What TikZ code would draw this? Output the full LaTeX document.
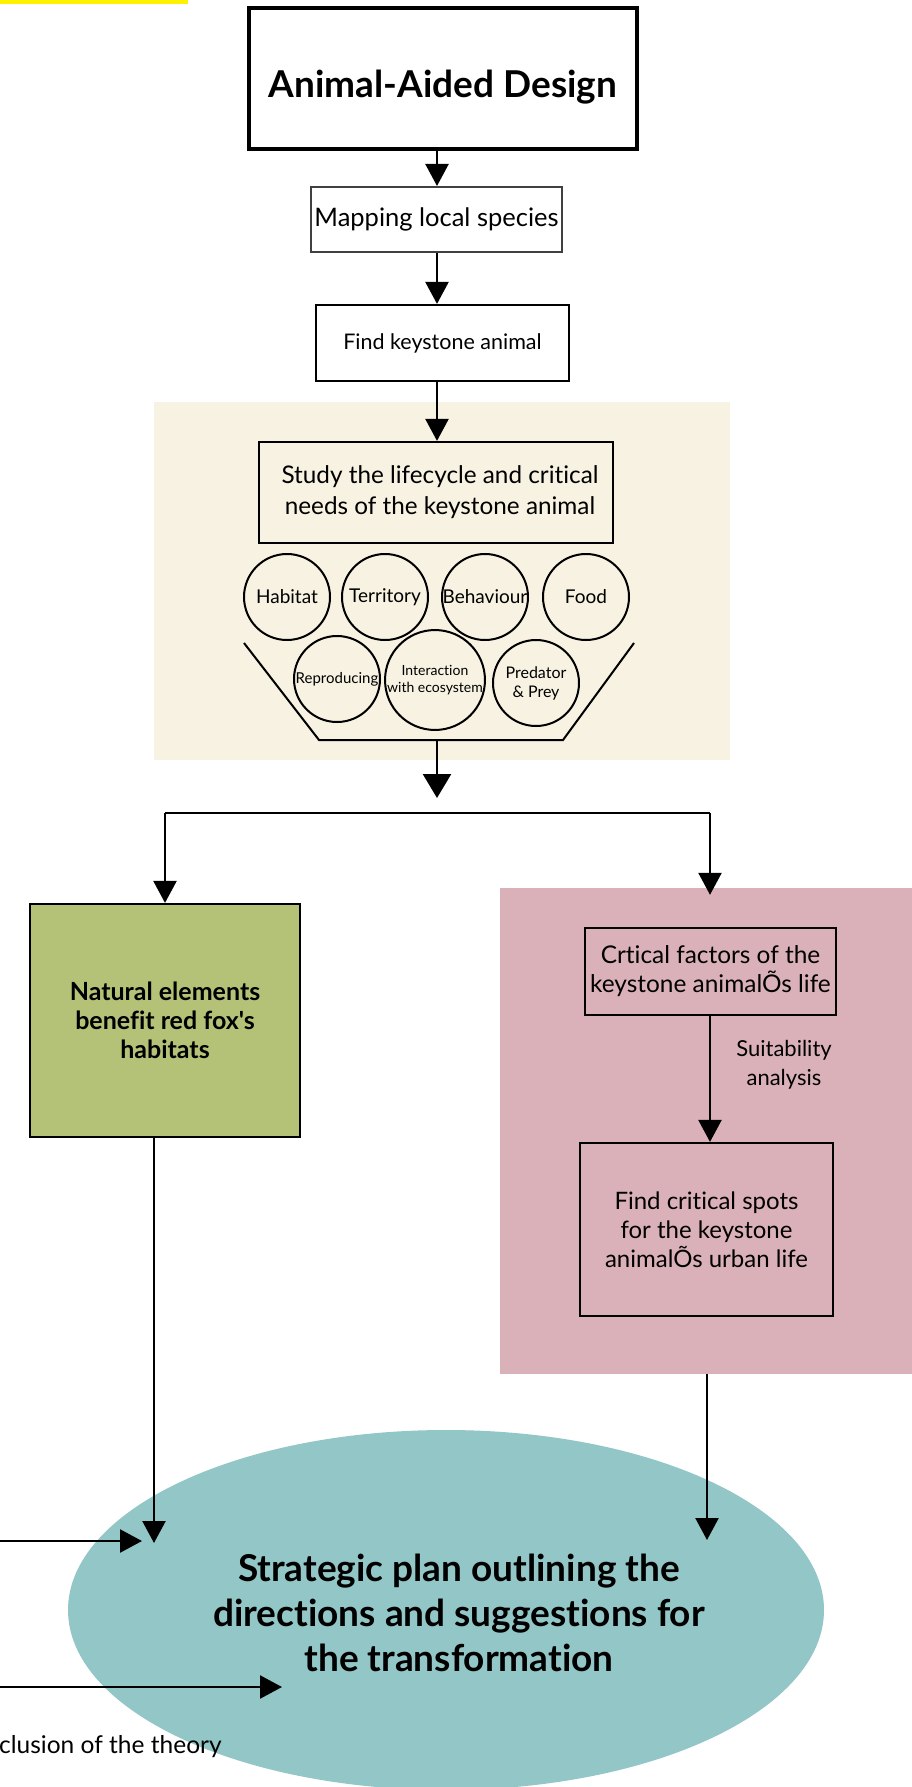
\documentclass[tikz,border=0pt]{standalone}
\usepackage{fontspec}
\setmainfont{Lato}[Ligatures={TeXOff,NoCommon}]
\usetikzlibrary{arrows.meta,shapes.geometric}
\definecolor{panelbeige}{HTML}{F7F2E1}
\definecolor{leaf}{HTML}{B3C277}
\definecolor{rose}{HTML}{DBB1B9}
\definecolor{ovalfill}{HTML}{93C6C7}
\definecolor{hilite}{HTML}{FFF200}
\begin{document}
\begin{tikzpicture}[x=1pt,y=-1pt,
  box/.style={draw, line width=2.2pt, rectangle, align=center, inner sep=0pt},
  arr/.style={line width=2.4pt, -{Triangle[width=23pt,length=22pt]}},
  circ/.style={draw, circle, line width=2pt, minimum size=86pt, inner sep=0pt, align=center},
  ln/.style={line width=2.4pt}]
\path[use as bounding box] (0,0) rectangle (912,1787);
\fill[hilite] (0,0) rectangle (188,4);
% beige panel
\node[fill=panelbeige, minimum width=576pt, minimum height=358pt, inner sep=0pt] (panel) at (442,581) {};
% top chain
\coordinate (ax) at (437,0);
\node[box, line width=4pt, minimum width=388pt, minimum height=141pt,
  font=\bfseries\fontsize{37}{44}\selectfont, text height=39pt, text depth=0pt] (title) at (443,78.5) {Animal-Aided Design};
\node[box, draw=black!75, line width=2pt, minimum width=251pt, minimum height=65pt,
  font=\fontsize{25.5}{30}\selectfont] (map) at (436.5,219.5) {Mapping local species};
\node[box, minimum width=253pt, minimum height=76pt,
  font=\fontsize{21.5}{25}\selectfont] (find) at (442.5,343) {Find keystone animal};
\node[box, minimum width=354pt, minimum height=101pt,
  font=\fontsize{24.3}{31}\selectfont] (study) at (436,492.5) {\hspace*{8pt}Study the lifecycle and critical\\\hspace*{8pt}needs of the keystone animal};
\draw[arr] (title.south -| ax) -- (map.north -| ax);
\draw[arr] (map.south -| ax) -- (find.north -| ax);
\draw[arr] (find.south -| ax) -- (study.north -| ax);
% circles
\node[circ, font=\fontsize{19}{22}\selectfont] (c1) at (287,597) {Habitat};
\node[circ, font=\fontsize{19}{22}\selectfont] (c2) at (385,597) {Territory};
\node[circ, font=\fontsize{19}{22}\selectfont] (c3) at (485,597) {Behaviour};
\node[circ, font=\fontsize{19}{22}\selectfont] (c4) at (586,597) {Food};
\node[circ, font=\fontsize{15}{18}\selectfont] (c5) at (337,679) {Reproducing};
\node[circ, font=\fontsize{14}{16.5}\selectfont] (c6) at (435,680) {Interaction\\with ecosystem};
\node[circ, font=\fontsize{16}{19}\selectfont] (c7) at (536,683) {Predator\\\& Prey};
% funnel
\draw[line width=2pt] (244,643) -- (319,740) -- (563,740) -- (634,643);
\coordinate (fb) at (437,740);
\coordinate (fa) at (437,798);
\draw[line width=2.6pt, -{Triangle[width=28pt,length=24pt]}] (fb) -- (fa);
% split
\coordinate (sl) at (165,813);
\coordinate (sr) at (710,813);
\draw[ln] (sl) -- (sr);
\node[box, fill=leaf, minimum width=270pt, minimum height=233pt,
  font=\bfseries\fontsize{25}{29}\selectfont] (green) at (165,1020.5) {Natural elements\\benefit red fox's\\habitats};
\node[fill=rose, minimum width=415pt, minimum height=486pt, inner sep=0pt] (pink) at (707.5,1131) {};
\draw[arr] (sl) -- (green.north -| sl);
\draw[arr, shorten >=-7pt] (sr) -- (pink.north -| sr);
\node[box, minimum width=251pt, minimum height=87pt,
  font=\fontsize{24.4}{29}\selectfont] (crit) at (710.5,971.5) {Crtical factors of the\\keystone animalÕs life};
\node[box, minimum width=253pt, minimum height=173pt,
  font=\fontsize{24}{29}\selectfont] (spots) at (706.5,1229.5) {Find critical spots\\for the keystone\\animalÕs urban life};
\draw[arr] (crit.south -| sr) -- (spots.north -| sr);
\node[font=\fontsize{22}{29}\selectfont, align=center, inner sep=0pt] (suit) at (784,1064.5) {Suitability\\analysis};
% ellipse
\node[ellipse, fill=ovalfill, minimum width=756pt, minimum height=360pt, inner sep=0pt] (oval) at (446,1610) {};
\node[font=\bfseries\fontsize{37}{45}\selectfont, align=center, inner sep=0pt] (ovaltext) at (459,1613)
  {Strategic plan outlining the\\directions and suggestions for\\the transformation};
\coordinate (gl) at (154,1543);
\coordinate (pr) at (707,1540);
\draw[arr] (green.south -| gl) -- (gl);
\draw[arr] (pink.south -| pr) -- (pr);
\coordinate (h1s) at (-3,1541);
\coordinate (h1e) at (142,1541);
\coordinate (h2s) at (-3,1687);
\coordinate (h2e) at (282,1687);
\draw[arr] (h1s) -- (h1e);
\draw[arr] (h2s) -- (h2e);
\node[anchor=west, font=\fontsize{24.5}{28}\selectfont, inner sep=0pt] (concl) at (-1,1747) {clusion of the theory};
\end{tikzpicture}
\end{document}
